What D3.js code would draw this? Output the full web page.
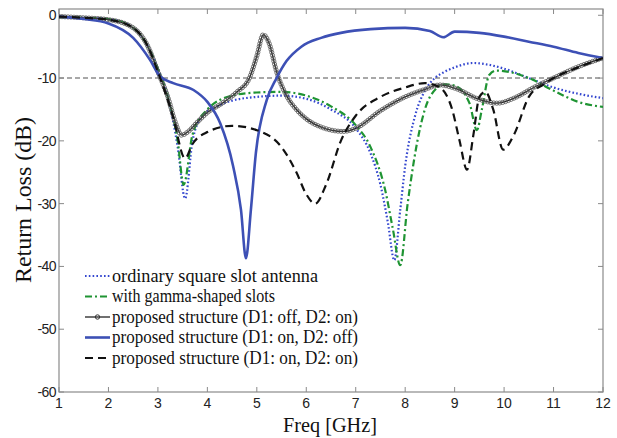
<!DOCTYPE html>
<html>
<head>
<meta charset="utf-8">
<script src="https://cdn.jsdelivr.net/npm/d3@7"></script>
<style>
  body { margin: 0; background: #fff; overflow: hidden; }
  svg { display: block; }
</style>
</head>
<body>
<div id="plot"></div>
<script>
// ############ DATA ###############

const xTicks = [1, 2, 3, 4, 5, 6, 7, 8, 9, 10, 11, 12];
const yTicks = [0, -10, -20, -30, -40, -50, -60];

// ordinary square slot antenna
const ordFreq = [1, 1.5, 2, 2.5, 2.8, 3, 3.2, 3.4, 3.55, 3.7, 3.9, 4.2, 4.5, 5, 5.5, 6, 6.5, 7, 7.3, 7.5, 7.65, 7.78, 7.9, 8, 8.2, 8.4, 8.6, 8.8, 9, 9.37, 9.7, 10, 10.5, 11, 11.5, 12];
const ordVal  = [-0.3, -0.4, -0.6, -2, -5, -8.5, -13, -21, -29.2, -20, -16, -14.5, -13.6, -13, -12.8, -13.3, -15, -18, -22, -27, -33, -39, -31, -24, -16, -12, -10, -9, -8.3, -7.6, -7.9, -8.5, -10, -11.5, -12.5, -13.2];

// with gamma-shaped slots
const gamFreq = [1, 1.5, 2, 2.5, 2.8, 3, 3.2, 3.4, 3.52, 3.7, 4, 4.5, 5, 5.5, 6, 6.5, 7, 7.3, 7.6, 7.75, 7.9, 8.05, 8.3, 8.5, 8.8, 9, 9.3, 9.45, 9.55, 9.7, 9.85, 10.5, 11, 11.5, 12];
const gamVal  = [-0.3, -0.4, -0.6, -2, -5, -8.5, -13, -20, -27, -19, -15, -12.8, -12.3, -12.2, -12.8, -14.5, -17.5, -21, -28, -34, -39.8, -30, -18, -13, -11, -11.2, -14, -18.3, -15, -9.5, -8.8, -10, -12, -13.8, -14.6];

// proposed structure (D1: off, D2: on)
const offOnFreq = [1, 1.5, 2, 2.5, 2.8, 3, 3.2, 3.35, 3.48, 3.6, 3.8, 4, 4.3, 4.6, 4.85, 5.0, 5.13, 5.25, 5.4, 5.6, 5.8, 6, 6.3, 6.75, 7, 7.5, 8, 8.4, 8.7, 9, 9.5, 9.86, 10.2, 10.6, 11, 11.5, 12];
const offOnVal  = [-0.2, -0.4, -0.7, -2, -5, -9, -13, -17, -19.1, -18.6, -17, -15.5, -14, -12.2, -10, -6.5, -3.1, -4.5, -9, -12.8, -15, -16.5, -17.8, -18.5, -18, -15.2, -13, -11.8, -11.1, -11.6, -13.4, -14, -13.2, -11.5, -10, -8.2, -6.8];

// proposed structure (D1: on, D2: off)
const onOffFreq = [1, 1.5, 2, 2.5, 2.84, 3.04, 3.31, 3.72, 4, 4.26, 4.52, 4.68, 4.78, 4.88, 4.98, 5.2, 5.4, 5.6, 5.9, 6.3, 6.7, 7.3, 8, 8.5, 8.77, 9, 9.5, 10, 10.5, 11, 11.5, 12];
const onOffVal  = [-0.2, -0.6, -1.3, -3.6, -7.1, -9.7, -10.8, -11.9, -13.8, -17.2, -24, -31, -38.7, -31, -22, -13.5, -10, -7.3, -5, -3.6, -2.8, -2.2, -2.0, -2.5, -3.5, -2.6, -2.8, -3.4, -4.2, -5, -6, -6.8];

// proposed structure (D1: on, D2: on)
const onOnFreq = [1, 1.5, 2, 2.5, 2.8, 3, 3.3, 3.55, 3.7, 4, 4.5, 5, 5.5, 5.8, 6.0, 6.18, 6.4, 6.7, 7, 7.5, 8, 8.4, 8.7, 8.95, 9.1, 9.25, 9.38, 9.5, 9.62, 9.78, 9.98, 10.2, 10.5, 10.8, 11, 11.5, 12];
const onOnVal  = [-0.2, -0.4, -0.7, -2, -5, -9, -16, -22.8, -20.5, -18.6, -17.6, -18.3, -21, -25, -28.5, -30, -27, -20, -16, -13, -11.5, -10.8, -11.5, -15, -20, -24.6, -19, -13, -12.2, -15, -21.4, -19, -13, -11, -10, -8.3, -6.8];

const threshold = -10;

const legendLabels = [
  "ordinary square slot antenna",
  "with gamma-shaped slots",
  "proposed structure (D1: off, D2: on)",
  "proposed structure (D1: on, D2: off)",
  "proposed structure (D1: on, D2: on)"
];

// ############ SETUP ###############

const w = 617, h = 438;
const margin = {top: 9, right: 14, bottom: 46, left: 59};
const innerWidth = w - margin.left - margin.right;
const innerHeight = h - margin.top - margin.bottom;

const xScale = d3.scaleLinear().domain([1, 12]).range([0, innerWidth]);
const yScale = d3.scaleLinear().domain([-60, 1]).range([innerHeight, 0]);

const series = [
  {freq: ordFreq,   val: ordVal,   color: "#3447cf", width: 2.2, dash: "1.6,2.2", cap: "butt"},
  {freq: gamFreq,   val: gamVal,   color: "#1f9433", width: 2.2, dash: "7,3,2,3", cap: "butt"},
  {freq: offOnFreq, val: offOnVal, color: "#222", width: 1.3, dash: null, markers: true},
  {freq: onOffFreq, val: onOffVal, color: "#3d50b5", width: 2.6, dash: null},
  {freq: onOnFreq,  val: onOnVal,  color: "#111", width: 2.2, dash: "8,5", cap: "butt"}
];

const svg = d3.select("div#plot")
  .append("svg")
  .attr("width", w)
  .attr("height", h);

const plot = svg.append("g")
  .attr("id", "plotarea")
  .attr("transform", `translate(${margin.left}, ${margin.top})`);

// frame
plot.append("rect")
  .attr("width", innerWidth)
  .attr("height", innerHeight)
  .attr("fill", "none")
  .attr("stroke", "#8a8a8a")
  .attr("stroke-width", 1.2);

// ticks (inward, all four sides)
const tickLen = 5;
xTicks.forEach(t => {
  plot.append("line")
    .attr("x1", xScale(t)).attr("x2", xScale(t))
    .attr("y1", innerHeight).attr("y2", innerHeight - tickLen)
    .attr("stroke", "#8a8a8a");
  plot.append("line")
    .attr("x1", xScale(t)).attr("x2", xScale(t))
    .attr("y1", 0).attr("y2", tickLen)
    .attr("stroke", "#8a8a8a");
});
yTicks.forEach(t => {
  plot.append("line")
    .attr("x1", 0).attr("x2", tickLen)
    .attr("y1", yScale(t)).attr("y2", yScale(t))
    .attr("stroke", "#8a8a8a");
  plot.append("line")
    .attr("x1", innerWidth).attr("x2", innerWidth - tickLen)
    .attr("y1", yScale(t)).attr("y2", yScale(t))
    .attr("stroke", "#8a8a8a");
});

// tick labels
plot.append("g")
  .selectAll("text")
  .data(xTicks)
  .enter()
  .append("text")
    .attr("x", d => xScale(d))
    .attr("y", innerHeight + 16)
    .attr("text-anchor", "middle")
    .attr("font-family", "Liberation Sans, Arial, sans-serif")
    .attr("font-size", 14)
    .attr("fill", "#222")
    .text(d => d);

plot.append("g")
  .selectAll("text")
  .data(yTicks)
  .enter()
  .append("text")
    .attr("x", -3)
    .attr("y", d => yScale(d) + 5)
    .attr("text-anchor", "end")
    .attr("font-family", "Liberation Sans, Arial, sans-serif")
    .attr("font-size", 14)
    .attr("letter-spacing", -0.6)
    .attr("fill", "#222")
    .text(d => d);

// axis labels
svg.append("text")
  .attr("x", 283)
  .attr("y", 432)
  .attr("font-family", "Liberation Serif, Times New Roman, serif")
  .attr("font-size", 22)
  .attr("textLength", 94)
  .attr("lengthAdjust", "spacingAndGlyphs")
  .attr("fill", "#111")
  .text("Freq [GHz]");

svg.append("text")
  .attr("transform", "translate(31, 283) rotate(-90)")
  .attr("font-family", "Liberation Serif, Times New Roman, serif")
  .attr("font-size", 23)
  .attr("textLength", 166)
  .attr("lengthAdjust", "spacingAndGlyphs")
  .attr("fill", "#111")
  .text("Return Loss (dB)");

// -10 dB reference line
plot.append("line")
  .attr("x1", 0).attr("x2", innerWidth)
  .attr("y1", yScale(threshold)).attr("y2", yScale(threshold))
  .attr("stroke", "#8c8c8c")
  .attr("stroke-width", 1.6)
  .attr("stroke-dasharray", "5,3");

// ############ CURVES ###############

const line = d3.line()
  .x(d => xScale(d[0]))
  .y(d => yScale(d[1]))
  .curve(d3.curveMonotoneX);

plot.append("clipPath").attr("id", "clip")
  .append("rect").attr("width", innerWidth).attr("height", innerHeight);

const curves = plot.append("g").attr("clip-path", "url(#clip)");

series.forEach(s => {
  const pts = s.freq.map((f, i) => [f, s.val[i]]);
  const path = curves.append("path")
    .attr("d", line(pts))
    .attr("fill", "none")
    .attr("stroke", s.color)
    .attr("stroke-width", s.width)
    .attr("stroke-linecap", s.cap || "round")
    .attr("stroke-linejoin", "round")
    .attr("stroke-dasharray", s.dash);

  if (s.markers) {
    // open circle markers spaced along the drawn curve
    const node = path.node();
    const len = node.getTotalLength();
    const step = 3;
    const g = curves.append("g");
    for (let l = 0; l <= len; l += step) {
      const p = node.getPointAtLength(l);
      g.append("circle")
        .attr("cx", p.x)
        .attr("cy", p.y)
        .attr("r", 2.1)
        .attr("fill", "none")
        .attr("stroke", "#555")
        .attr("stroke-width", 0.8);
    }
  }
});

// ############ LEGEND ###############

const legend = svg.append("g")
  .attr("transform", "translate(85, 276)");

legendLabels.forEach((lab, i) => {
  const s = series[i];
  const y = i * 20.5;
  legend.append("line")
    .attr("x1", 0).attr("x2", 25)
    .attr("y1", y).attr("y2", y)
    .attr("stroke", s.color)
    .attr("stroke-width", s.width)
    .attr("stroke-dasharray", s.dash);
  if (s.markers) {
    legend.append("circle")
      .attr("cx", 12.5).attr("cy", y).attr("r", 2.2)
      .attr("fill", "none").attr("stroke", "#333");
  }
  legend.append("text")
    .attr("x", 27)
    .attr("y", y + 5.5)
    .attr("font-family", "Liberation Serif, Times New Roman, serif")
    .attr("font-size", 18)
    .attr("fill", "#111")
    .attr("textLength", [206, 163, 246, 246, 246][i])
    .attr("lengthAdjust", "spacingAndGlyphs")
    .text(lab);
});
</script>
</body>
</html>
